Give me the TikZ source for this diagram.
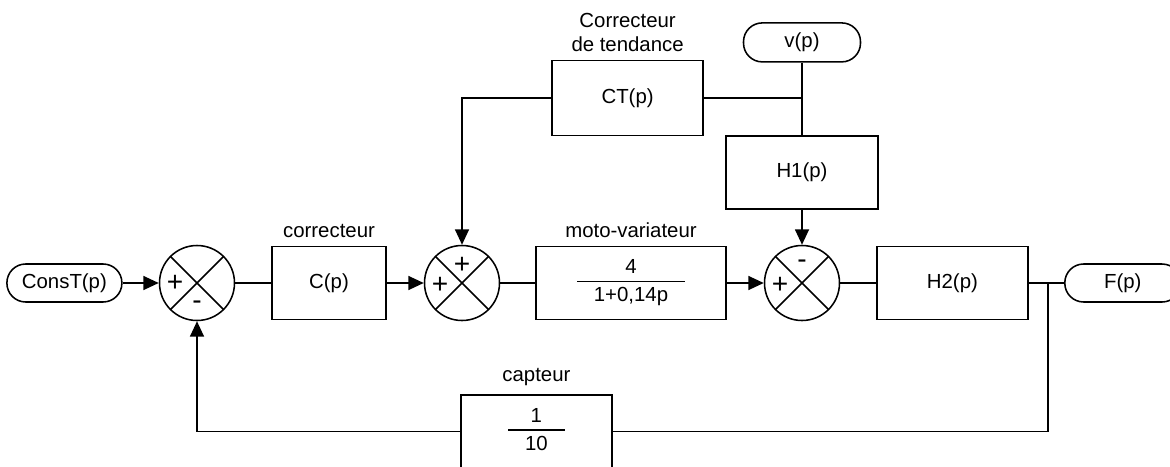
\documentclass[tikz,border=0pt]{standalone}
\usepackage{fontspec}
\setmainfont{Liberation Sans}
\usetikzlibrary{arrows.meta}

\newcommand{\blocfrac}[2]{%
  {\setlength{\arrayrulewidth}{1pt}%
   \begin{tabular}{@{\hspace{12pt}}c@{\hspace{12pt}}}#1\\\hline\rule{0pt}{14pt}#2\end{tabular}}}

\begin{document}
\begin{tikzpicture}[x=1cm,y=1cm,
    font=\fontsize{14.5}{17}\selectfont,
    line width=1.1pt,
    >={Triangle[length=11pt,width=10pt]},
    bloc/.style={draw,rectangle,inner sep=0pt,minimum height=1.825cm},
    borne/.style={draw,rectangle,rounded corners=0.47cm,inner sep=0pt,minimum height=0.95cm},
    signe/.style={inner sep=0pt,font=\fontsize{20}{20}\selectfont},
    somme/.style={draw,circle,inner sep=0pt,minimum size=1.875cm,
      path picture={\draw (path picture bounding box.north west) -- (path picture bounding box.south east)
                          (path picture bounding box.south west) -- (path picture bounding box.north east);}}]
    \useasboundingbox (0,0) rectangle (29.25,11.65);
    \clip (0,0) rectangle (29.25,11.65);
    % main line
    \node[borne,minimum width=2.875cm] (CONS) at (1.61,4.575) {ConsT(p)};
    \node[somme] (S1) at (4.925,4.575) {};
    \node[bloc,minimum width=2.85cm,label={[label distance=2pt]above:correcteur}] (C) at (8.225,4.575) {C(p)};
    \node[somme] (S2) at (11.55,4.575) {};
    \node[bloc,minimum width=4.75cm,label={[label distance=2pt]above:moto-variateur}] (MV) at (15.775,4.575) {\blocfrac{4}{1+0,14p}};
    \node[somme] (S3) at (20.05,4.575) {};
    \node[bloc,minimum width=3.775cm] (H2) at (23.81,4.575) {H2(p)};
    \node[borne,minimum width=2.9cm] (F) at (28.07,4.575) {F(p)};
    % upper branch
    \node[bloc,minimum width=3.775cm,minimum height=1.875cm,
      label={[align=center,label distance=2pt]above:{Correcteur\\de tendance}}] (CT) at (15.69,9.2) {CT(p)};
    \node[bloc,minimum width=3.8cm] (H1) at (20.05,7.34) {H1(p)};
    \node[borne,minimum width=2.925cm,minimum height=0.975cm] (V) at (20.05,10.59) {v(p)};
    % feedback
    \node[bloc,minimum width=3.775cm,label={[label distance=2pt]above:capteur}] (CAP) at (13.41,0.86) {\blocfrac{1}{10}};
    % signs
    \node[signe] (S1p) at ([xshift=-0.55cm]S1.center) {+};
    \node[signe] (S1m) at ([yshift=-0.55cm]S1.center) {-};
    \node[signe] (S2p) at ([xshift=-0.55cm,yshift=-0.07cm]S2.center) {+};
    \node[signe] (S2q) at ([yshift=0.45cm]S2.center) {+};
    \node[signe] (S3p) at ([xshift=-0.55cm,yshift=-0.07cm]S3.center) {+};
    \node[signe] (S3m) at ([yshift=0.47cm]S3.center) {-};
    \coordinate (J1) at (26.2,4.575);
    \coordinate (J2) at (CT.east -| S3);
    \draw[->] (CONS) -- (S1);
    \draw (S1) -- (C);
    \draw[->] (C) -- (S2);
    \draw (S2) -- (MV);
    \draw[->] (MV) -- (S3);
    \draw (S3) -- (H2);
    \draw (H2) -- (F);
    \draw (J1) |- (CAP);
    \draw[->] (CAP) -| (S1);
    \draw[->] (CT) -| (S2);
    \draw (CT) -- (J2);
    \draw (V) -- (H1);
    \draw[->] (H1) -- (S3);
\end{tikzpicture}
\end{document}
